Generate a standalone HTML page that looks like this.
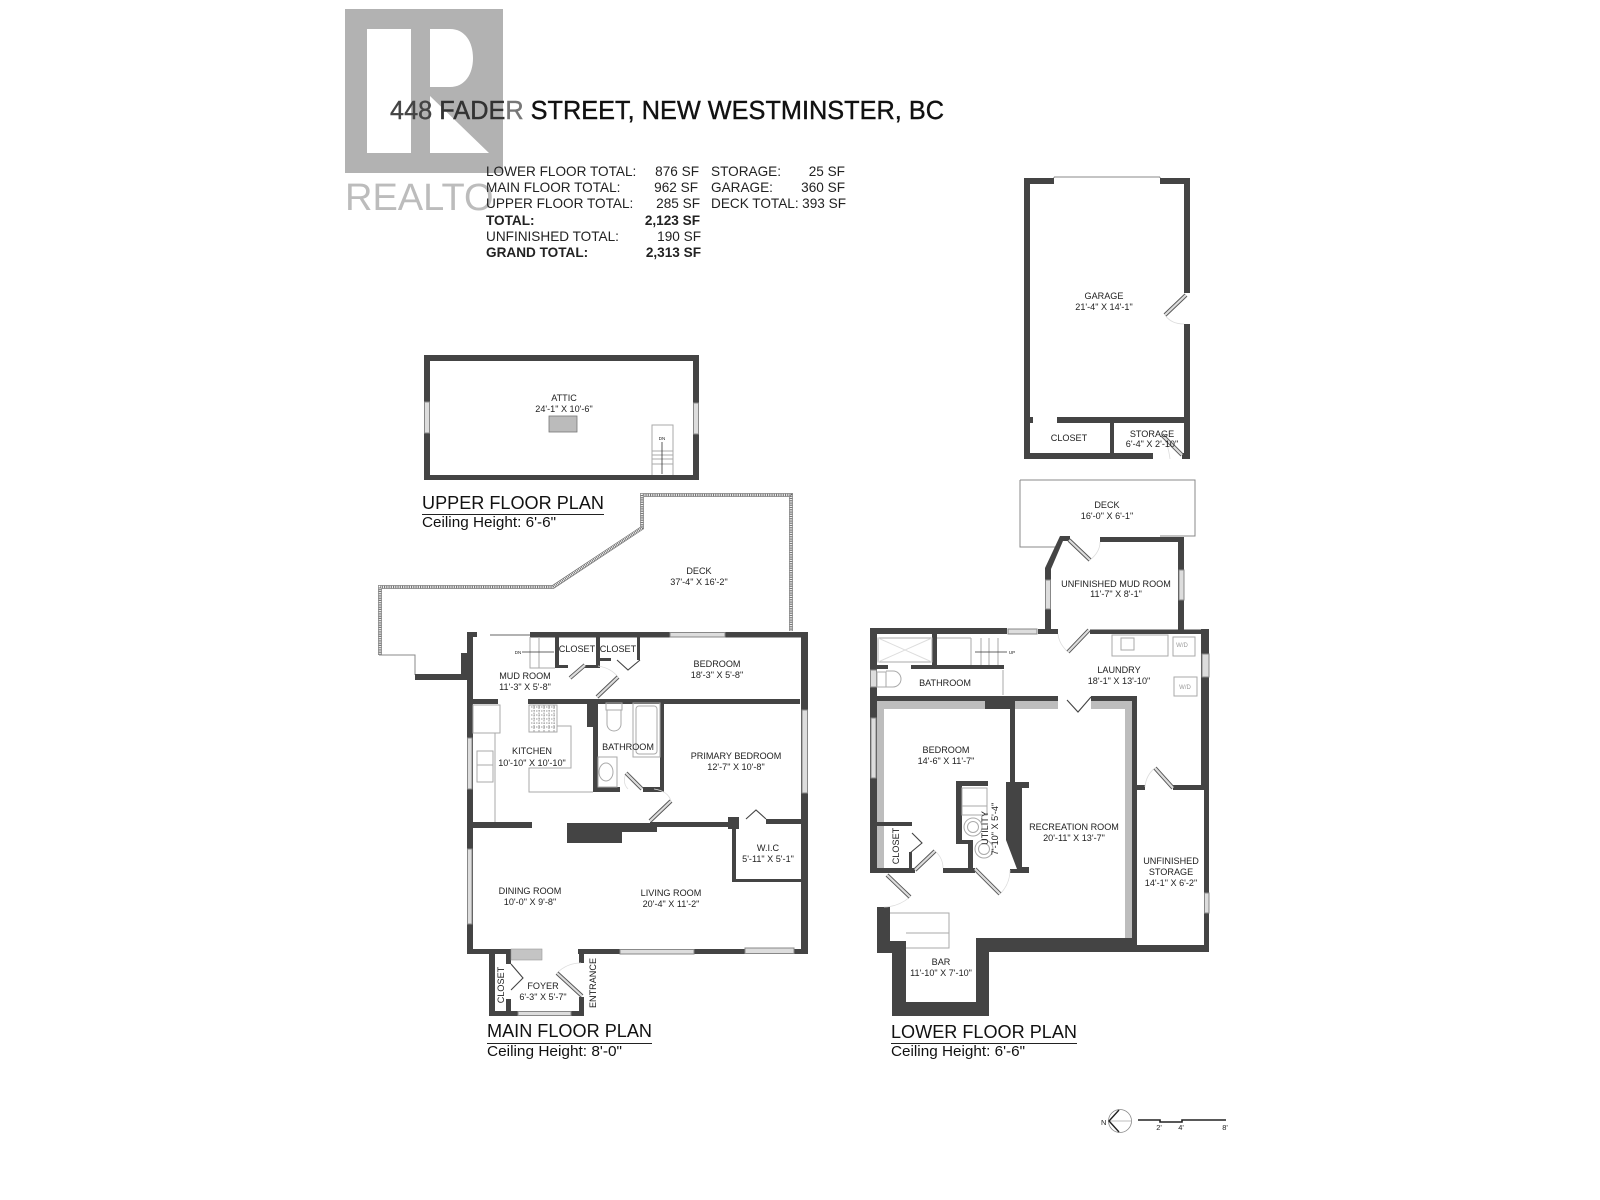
<!DOCTYPE html>
<html><head><meta charset="utf-8"><style>
html,body{margin:0;padding:0;background:#fff}
svg{display:block}
text{font-family:"Liberation Sans",sans-serif;fill:#222}
.l text,.l{font-size:9.1px;text-anchor:middle}
.t{font-size:13.6px;fill:#222}
.b{font-weight:bold}
.e{text-anchor:end}
.h{font-size:18.5px;fill:#111}
.c{font-size:15px;fill:#111}
.w{fill:#444}
.g{fill:#bdbdbd}
.win{fill:#ddd;stroke:#888;stroke-width:1}
.f{fill:none;stroke:#aaa;stroke-width:1}
.a{fill:none;stroke:#ddd;stroke-width:.8}
</style></head><body>
<svg width="1600" height="1200" viewBox="0 0 1600 1200" xmlns="http://www.w3.org/2000/svg">
<rect width="1600" height="1200" fill="#fff"/>
<!-- logo -->
<rect x="345" y="9" width="158" height="164" fill="#b2b2b2"/>
<rect x="367" y="29" width="44" height="124" fill="#fff"/>
<path d="M430 29H450C465 29 473 42 473 58C473 74 465 87 450 87H430Z M430 96L489 153H430Z" fill="#fff"/>
<text x="345" y="210" font-size="38" textLength="176" lengthAdjust="spacingAndGlyphs" style="fill:#bcbcbc">REALTOR</text>
<rect x="493" y="176" width="40" height="38" fill="#fff"/>
<!-- title -->
<text x="390" y="119" font-size="25.5" textLength="554" lengthAdjust="spacingAndGlyphs" stroke-width=".4" style="fill:#111;stroke:#111"><tspan style="fill:#444;stroke:#444">448 </tspan><tspan style="fill:#333;stroke:#333">FADE</tspan><tspan style="fill:#777;stroke:#777">R</tspan> STREET, NEW WESTMINSTER, BC</text>
<!-- table -->
<text class="t" x="486" y="176">LOWER FLOOR TOTAL:</text><text class="t e" x="699" y="176">876 SF</text>
<text class="t" x="486" y="192">MAIN FLOOR TOTAL:</text><text class="t e" x="698" y="192">962 SF</text>
<text class="t" x="486" y="208">UPPER FLOOR TOTAL:</text><text class="t e" x="700" y="208">285 SF</text>
<text class="t b" x="486" y="225">TOTAL:</text><text class="t b e" x="700" y="225">2,123 SF</text>
<text class="t" x="486" y="241">UNFINISHED TOTAL:</text><text class="t e" x="701" y="241">190 SF</text>
<text class="t b" x="486" y="257">GRAND TOTAL:</text><text class="t b e" x="701" y="257">2,313 SF</text>
<text class="t" x="711" y="176">STORAGE:</text><text class="t e" x="845" y="176">25 SF</text>
<text class="t" x="711" y="192">GARAGE:</text><text class="t e" x="845" y="192">360 SF</text>
<text class="t" x="711" y="208">DECK TOTAL:</text><text class="t e" x="846" y="208">393 SF</text>

<!-- Attic -->
<path class="w" fill-rule="evenodd" d="M424 355H699V480H424Z M430 361V475H693V361Z"/>
<rect class="win" x="424.5" y="402" width="5" height="31"/>
<rect class="win" x="693.5" y="403" width="5" height="31"/>
<rect x="549" y="416" width="28" height="16" fill="#bbb" stroke="#777" stroke-width=".8"/>
<path class="f" stroke="#888" d="M652 475V425H673V475M652 451H673M652 455H673M652 459H673M652 464H673"/>
<path d="M662 442V474" stroke="#333" stroke-width=".8"/>
<text x="662" y="440" font-size="4.5" text-anchor="middle">DN</text>
<text class="h" x="422" y="509" textLength="182" lengthAdjust="spacingAndGlyphs">UPPER FLOOR PLAN</text>
<rect x="422" y="514" width="182" height="1" fill="#222"/>
<text class="c" x="422" y="527" textLength="134" lengthAdjust="spacingAndGlyphs">Ceiling Height: 6'-6"</text>

<!-- Deck hatch -->
<g fill="none" stroke-linejoin="miter">
<path d="M380 655V587H553L642 528V495H791V631" stroke="#666" stroke-width="3.8"/>
<path d="M380 655V587H553L642 528V495H791V631" stroke="#fff" stroke-width="2.6"/>
<path d="M380 655V587H553L642 528V495H791V631" stroke="#666" stroke-width="2.6" stroke-dasharray=".9 .9"/>
<path d="M379 655H415V675" stroke="#888" stroke-width="1"/>
</g>

<!-- Main floor walls -->
<g class="w">
<rect x="467" y="632" width="10" height="5"/>
<rect x="467" y="632" width="6" height="322"/>
<rect x="530" y="632" width="140" height="5.5"/>
<rect x="725" y="632" width="83" height="5.5"/>
<rect x="801" y="632" width="7" height="322"/>
<rect x="415" y="674" width="52" height="6"/>
<rect x="461" y="653" width="6" height="27"/>
<rect x="473" y="699" width="25" height="5"/>
<rect x="528" y="699" width="272" height="5"/>
<rect x="587" y="704" width="11" height="23"/>
<rect x="593" y="727" width="5" height="65"/>
<rect x="593" y="787" width="27" height="5"/>
<rect x="660" y="704" width="4" height="88"/>
<rect x="643" y="787" width="21" height="5"/>
<rect x="555" y="632" width="4" height="36"/>
<rect x="555" y="665" width="13" height="3"/>
<rect x="596" y="637" width="4" height="31"/>
<rect x="585" y="665" width="11" height="3"/>
<rect x="600" y="658" width="11" height="3"/>
<rect x="637" y="637" width="3" height="23"/>
<rect x="473" y="822" width="59" height="6"/>
<rect x="567" y="823" width="90" height="9"/>
<rect x="567" y="832" width="55" height="11"/>
<rect x="650" y="822" width="83" height="5"/>
<rect x="728" y="817" width="11" height="12"/>
<rect x="732" y="817" width="4" height="65"/>
<rect x="732" y="879" width="69" height="3"/>
<rect x="766" y="819" width="35" height="5"/>
<rect x="467" y="949" width="53" height="5"/>
<rect x="578" y="949" width="42" height="5"/>
<rect x="694" y="949" width="51" height="5"/>
<rect x="794" y="949" width="14" height="5"/>
<rect x="489" y="954" width="6" height="62"/>
<rect x="506" y="954" width="5" height="10"/>
<rect x="506" y="999" width="5" height="12"/>
<rect x="489" y="1011" width="29" height="5"/>
<rect x="571" y="1011" width="13" height="5"/>
<rect x="579" y="954" width="5" height="9"/>
<rect x="579" y="997" width="5" height="19"/>
</g>
<rect x="511" y="949" width="31" height="11" fill="#c4c4c4" stroke="#999" stroke-width=".6"/>
<g class="win">
<rect x="670" y="632.5" width="55" height="4.5"/>
<rect x="802" y="710" width="5.5" height="83"/>
<rect x="467.5" y="738" width="4.5" height="51"/>
<rect x="467.5" y="849" width="4.5" height="75"/>
<rect x="620" y="949.5" width="74" height="4.5"/>
<rect x="745" y="948" width="49" height="5.5"/>
<rect x="518" y="1011.5" width="53" height="4"/>
</g>
<path d="M490 635H530" stroke="#999" stroke-width="1.4"/>
<!-- main fixtures -->
<g class="f">
<path d="M530 637V668H555M539 637V668"/>
<rect x="473" y="705" width="27" height="28"/>
<rect x="529" y="705" width="28" height="27"/>
<path d="M557 726H571V768H529V792H593"/>
<path d="M495 733V822"/>
<rect x="477" y="751" width="16" height="31"/><path d="M477 765H493"/>
<path d="M606 703H622V710H606Z"/><path d="M607 710V724A7 7 0 0 0 621 724V710"/>
<rect x="633" y="703" width="27" height="54"/><rect x="636" y="706" width="21" height="48" rx="3"/>
<rect x="598" y="757" width="19" height="30"/><ellipse cx="606" cy="772" rx="7" ry="9"/>
</g>
<path d="M531 707H555M531 711H555M531 715H555M531 719H555M531 723H555M531 727H555M534 705V732M539 705V732M544 705V732M549 705V732M554 705V732" stroke="#999" stroke-width="1" fill="none" stroke-dasharray="1.5 1"/>
<path d="M522 652H554" stroke="#333" stroke-width=".8"/>
<text x="518" y="654" font-size="4.5" text-anchor="middle">DN</text>
<!-- bifolds main -->
<g fill="none" stroke="#444" stroke-width="1.1">
<path d="M617 660L628 670L640 660"/>
<path d="M746 819L756 810L766 819"/>
<path d="M511 964L523 978L511 990"/>
</g>

<!-- Garage -->
<g class="w">
<rect x="1024" y="178" width="30" height="6"/>
<rect x="1024" y="178" width="6" height="281"/>
<rect x="1160" y="178" width="30" height="6"/>
<rect x="1184" y="178" width="6" height="115"/>
<rect x="1184" y="324" width="6" height="135"/>
<rect x="1024" y="453" width="129" height="6"/>
<rect x="1030" y="417" width="3" height="6"/>
<rect x="1057" y="417" width="127" height="6"/>
<rect x="1110" y="423" width="4" height="30"/>
<rect x="1182" y="453" width="8" height="6"/>
</g>
<path d="M1054 177H1160M1054 177V178M1160 177V178" stroke="#888" stroke-width="1"/>

<!-- Lower deck -->
<path d="M1020 480H1195V536H1160M1057 547H1020V480" fill="none" stroke="#888" stroke-width="1"/>

<!-- Lower floor -->
<g class="g">
<rect x="876" y="701" width="109" height="8"/>
<rect x="876" y="709" width="8" height="160"/>
<rect x="1015" y="701" width="43" height="8"/>
<rect x="1091" y="701" width="41" height="8"/>
<rect x="1125" y="709" width="7" height="229"/>
</g>
<g class="w">
<rect x="1100" y="537" width="84" height="5"/>
<rect x="1178" y="537" width="6" height="93"/>
<path d="M1060 536H1070V541H1063L1051 569V632H1045V568Z"/>
<rect x="1038" y="629" width="20" height="5"/>
<rect x="870" y="628" width="137" height="6"/>
<rect x="1090" y="629.5" width="119" height="4.5"/>
<rect x="1201" y="629" width="8" height="158"/>
<rect x="1204" y="787" width="5" height="165"/>
<rect x="1173" y="785" width="31" height="5"/>
<rect x="1137" y="785" width="8" height="5"/>
<rect x="870" y="628" width="7" height="245"/>
<rect x="932" y="634" width="5" height="31"/>
<rect x="911" y="665" width="93" height="4"/>
<rect x="877" y="665" width="11" height="4"/>
<rect x="870" y="696" width="188" height="5"/>
<rect x="1091" y="696" width="46" height="5"/>
<rect x="1132" y="696" width="5" height="249"/>
<rect x="985" y="701" width="30" height="8"/>
<rect x="1010" y="709" width="5" height="73"/>
<path d="M1006 782H1029V788H1022V867H1029V873H1010V869H1017L1006 840Z"/>
<rect x="956" y="781" width="6" height="63"/>
<rect x="956" y="781" width="32" height="5"/>
<rect x="956" y="840" width="17" height="4"/>
<rect x="968" y="840" width="5" height="33"/>
<rect x="943" y="868" width="32" height="5"/>
<rect x="870" y="868" width="45" height="5"/>
<rect x="876" y="822" width="36" height="4"/>
<rect x="909" y="852" width="3" height="18"/>
<path d="M877 907H890V941H906V1002H976V938H1132V945H1204V952H989V1016H892V953H877Z"/>
</g>
<g class="win">
<rect x="1179" y="570" width="5" height="30"/>
<rect x="1045.5" y="580" width="5" height="29"/>
<rect x="1008" y="629" width="29" height="5"/>
<rect x="1202" y="654" width="7" height="23"/>
<rect x="870.5" y="670" width="6" height="17"/>
<rect x="871" y="718" width="5" height="60"/>
<rect x="1204.5" y="893" width="4.5" height="20"/>
</g>
<g class="f">
<rect x="878" y="638" width="54" height="24"/><path d="M878 638L932 662M932 638L878 662" stroke="#ddd"/>
<path d="M971 638V665M981 638V665M989 638V665M998 638V665M937 638H971"/>
<rect x="877" y="672" width="9" height="15"/><path d="M886 671H893A8 8 0 0 1 893 687H886"/>
<path d="M1003 670V695"/>
<rect x="1112" y="635" width="56" height="21"/><rect x="1121" y="638" width="13" height="12"/>
<rect x="1173" y="637" width="22" height="19"/><rect x="1174" y="677" width="23" height="19"/>
<rect x="962" y="788" width="25" height="27"/><path d="M962 806H987"/>
<circle cx="973" cy="827" r="9"/><circle cx="973" cy="827" r="5.5"/>
<circle cx="984" cy="849" r="9"/><circle cx="984" cy="849" r="5.5"/>
<path d="M890 913H949V948H906M906 933H949"/>
</g>
<path d="M975 652H1007" stroke="#333" stroke-width=".8"/>
<text x="1012" y="654" font-size="4.5" text-anchor="middle">UP</text>
<text x="1182" y="647" font-size="6" text-anchor="middle" style="fill:#999">W/D</text>
<text x="1185" y="689" font-size="6" text-anchor="middle" style="fill:#999">W/D</text>
<g fill="none" stroke="#444" stroke-width="1.1">
<path d="M1067 700L1078 712L1091 697"/>
<path d="M912 833L922 843L910 853"/>
</g>

<!-- doors -->
<g fill="none">
<path class="a" d="M618 677Q611 668 598 666M626 773Q622 783 628 789M671 801Q668 791 654 789M557 973Q567 963 581 963M1165 315Q1171 324 1184 324M1162 435Q1168 443 1170 459M1090 560Q1100 552 1100 542M1068 652Q1059 644 1058 634M935 851Q943 858 943 868M910 897Q898 907 884 907M1000 894Q1010 884 1010 870M1155 768Q1146 775 1145 787"/>
<path stroke="#555" stroke-width="4" d="M570 678L585 665M597 697L618 677M642 789L626 773M650 821L671 801M582 996L557 973M1186 295L1165 315M1182 455L1162 435M1069 540L1090 560M1089 630L1068 652M915 870L935 851M887 875L910 897M975 869L1000 894M1173 788L1155 768"/>
<path stroke="#ddd" stroke-width="2.2" d="M570 678L585 665M597 697L618 677M642 789L626 773M650 821L671 801M582 996L557 973M1186 295L1165 315M1182 455L1162 435M1069 540L1090 560M1089 630L1068 652M915 870L935 851M887 875L910 897M975 869L1000 894M1173 788L1155 768"/>
</g>

<!-- Labels -->
<g class="l">
<text x="564" y="401">ATTIC</text><text x="564" y="412">24'-1" X 10'-6"</text>
<text x="699" y="574">DECK</text><text x="699" y="585">37'-4" X 16'-2"</text>
<text x="577" y="652">CLOSET</text><text x="618" y="652">CLOSET</text>
<text x="717" y="667">BEDROOM</text><text x="717" y="678">18'-3" X 5'-8"</text>
<text x="525" y="679">MUD ROOM</text><text x="525" y="690">11'-3" X 5'-8"</text>
<text x="532" y="754">KITCHEN</text><text x="532" y="766">10'-10" X 10'-10"</text>
<text x="628" y="750">BATHROOM</text>
<text x="736" y="759">PRIMARY BEDROOM</text><text x="736" y="770">12'-7" X 10'-8"</text>
<text x="768" y="851">W.I.C</text><text x="768" y="862">5'-11" X 5'-1"</text>
<text x="530" y="894">DINING ROOM</text><text x="530" y="905">10'-0" X 9'-8"</text>
<text x="671" y="896">LIVING ROOM</text><text x="671" y="907">20'-4" X 11'-2"</text>
<text x="543" y="989">FOYER</text><text x="543" y="1000">6'-3" X 5'-7"</text>
<text transform="translate(596 983) rotate(-90)">ENTRANCE</text>
<text transform="translate(504 985) rotate(-90)">CLOSET</text>
<text x="1104" y="299">GARAGE</text><text x="1104" y="310">21'-4" X 14'-1"</text>
<text x="1069" y="441">CLOSET</text>
<text x="1152" y="437">STORAGE</text><text x="1152" y="447">6'-4" X 2'-10"</text>
<text x="1107" y="508">DECK</text><text x="1107" y="519">16'-0" X 6'-1"</text>
<text x="1116" y="587">UNFINISHED MUD ROOM</text><text x="1116" y="597">11'-7" X 8'-1"</text>
<text x="945" y="686">BATHROOM</text>
<text x="1119" y="673">LAUNDRY</text><text x="1119" y="684">18'-1" X 13'-10"</text>
<text x="946" y="753">BEDROOM</text><text x="946" y="764">14'-6" X 11'-7"</text>
<text x="1074" y="830">RECREATION ROOM</text><text x="1074" y="841">20'-11" X 13'-7"</text>
<text x="1171" y="864">UNFINISHED</text><text x="1171" y="875">STORAGE</text><text x="1171" y="886">14'-1" X 6'-2"</text>
<text transform="translate(988 828) rotate(-90)">UTILITY</text>
<text transform="translate(998 829) rotate(-90)">7'-10" X 5'-4"</text>
<text transform="translate(899 846) rotate(-90)">CLOSET</text>
<text x="941" y="965">BAR</text><text x="941" y="976">11'-10" X 7'-10"</text>
</g>

<!-- Plan titles -->
<text class="h" x="487" y="1037" textLength="165" lengthAdjust="spacingAndGlyphs">MAIN FLOOR PLAN</text>
<rect x="487" y="1043" width="165" height="1" fill="#222"/>
<text class="c" x="487" y="1056" textLength="135" lengthAdjust="spacingAndGlyphs">Ceiling Height: 8'-0"</text>
<text class="h" x="891" y="1038" textLength="186" lengthAdjust="spacingAndGlyphs">LOWER FLOOR PLAN</text>
<rect x="891" y="1043" width="186" height="1" fill="#222"/>
<text class="c" x="891" y="1056" textLength="134" lengthAdjust="spacingAndGlyphs">Ceiling Height: 6'-6"</text>

<!-- North + scale -->
<circle cx="1120" cy="1121" r="11.5" fill="none" stroke="#888" stroke-width=".8"/>
<path d="M1109 1121H1131" stroke="#aaa" stroke-width=".8"/>
<path d="M1119 1110L1109 1121L1119 1132" fill="none" stroke="#222" stroke-width="1.4"/>
<text x="1101" y="1125" font-size="7.5">N</text>
<path d="M1138 1120H1160V1122H1182V1120H1226" fill="none" stroke="#222" stroke-width="1.6"/>
<text x="1159" y="1130" font-size="7.5" text-anchor="middle">2'</text>
<text x="1181" y="1130" font-size="7.5" text-anchor="middle">4'</text>
<text x="1225" y="1130" font-size="7.5" text-anchor="middle">8'</text>
</svg>
</body></html>
